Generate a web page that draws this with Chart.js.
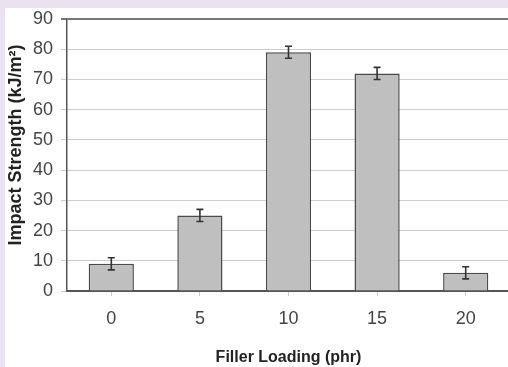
<!DOCTYPE html>
<html>
<head>
<meta charset="utf-8">
<script src="https://cdn.jsdelivr.net/npm/chart.js@4/dist/chart.umd.min.js"></script>
<style>
  html, body { margin: 0; padding: 0; width: 508px; height: 367px; overflow: hidden; background: #ebe2f0; }
  #frame { position: absolute; left: 5px; top: 8px; width: 510px; height: 359px; background: #ffffff; }
  #wrap { position: absolute; left: 0; top: 0; width: 510px; height: 367px; }
</style>
</head>
<body>
<div id="frame"></div>
<div id="wrap"><canvas id="c" width="510" height="367"></canvas></div>
<script>
const categories = ['0', '5', '10', '15', '20'];
const impactStrength = [9, 25, 79, 72, 6];
const errorValues = [2, 2, 2, 2, 2];
const yTicks = [0, 10, 20, 30, 40, 50, 60, 70, 80, 90];
const xTitle = 'Filler Loading (phr)';
const yTitle = 'Impact Strength (kJ/m\u00B2)';

const tickFont = { family: "'Liberation Sans Narrow', 'Liberation Sans', Arial, sans-serif", size: 18 };

const errorBarPlugin = {
  id: 'errorBars',
  afterDatasetsDraw(chart) {
    const meta = chart.getDatasetMeta(0);
    const ys = chart.scales.y;
    const ctx = chart.ctx;
    ctx.save();
    ctx.strokeStyle = '#333333';
    ctx.lineWidth = 1.6;
    meta.data.forEach((bar, i) => {
      const v = impactStrength[i], e = errorValues[i];
      const x = bar.x;
      const yt = ys.getPixelForValue(v + e);
      const yb = ys.getPixelForValue(v - e);
      ctx.beginPath();
      ctx.moveTo(x, yt); ctx.lineTo(x, yb);
      ctx.moveTo(x - 3.5, yt); ctx.lineTo(x + 3.5, yt);
      ctx.moveTo(x - 3.5, yb); ctx.lineTo(x + 3.5, yb);
      ctx.stroke();
    });
    ctx.restore();
  }
};

const yTitlePlugin = {
  id: 'yTitle',
  afterDraw(chart) {
    const ctx = chart.ctx;
    ctx.save();
    ctx.translate(16, 145);
    ctx.rotate(-Math.PI / 2);
    ctx.font = "bold 18px 'Liberation Sans', Arial, sans-serif";
    ctx.fillStyle = '#222222';
    ctx.textAlign = 'center';
    ctx.textBaseline = 'middle';
    ctx.fillText(yTitle, 0, 0);
    ctx.restore();
  }
};

new Chart(document.getElementById('c'), {
  type: 'bar',
  data: {
    labels: categories,
    datasets: [{
      data: impactStrength,
      backgroundColor: '#bfbfbf',
      borderColor: '#4a4a4a',
      borderWidth: 1.5,
      categoryPercentage: 1.0,
      barPercentage: 0.51
    }]
  },
  options: {
    responsive: false,
    animation: false,
    layout: { padding: { top: 19, left: 0, right: 0, bottom: 0 } },
    plugins: { legend: { display: false }, tooltip: { enabled: false } },
    scales: {
      x: {
        grid: { offset: false, drawOnChartArea: false, drawTicks: true, tickLength: 5, color: '#cccccc' },
        border: { display: true, color: '#555555', width: 2 },
        ticks: { font: tickFont, color: '#444444', padding: 12 },
        title: {
          display: true, text: xTitle, color: '#222222',
          font: { family: "'Liberation Sans Narrow', 'Liberation Sans', Arial, sans-serif", size: 16, weight: 'bold' },
          padding: { top: 0, bottom: 0 }
        },
        afterFit(scale) { scale.height = 76; }
      },
      y: {
        min: 0, max: 90,
        afterBuildTicks(scale) { scale.ticks = yTicks.map(v => ({ value: v })); },
        grid: {
          color: (c) => (c.tick && c.tick.value === 90) ? '#777777' : '#cccccc',
          lineWidth: (c) => (c.tick && c.tick.value === 90) ? 2 : 1,
          tickLength: 6
        },
        border: { display: true, color: '#555555', width: 1.5 },
        ticks: { font: tickFont, color: '#444444', padding: 8 },
        afterFit(scale) { scale.width = 67; }
      }
    }
  },
  plugins: [errorBarPlugin, yTitlePlugin]
});
</script>
</body>
</html>
